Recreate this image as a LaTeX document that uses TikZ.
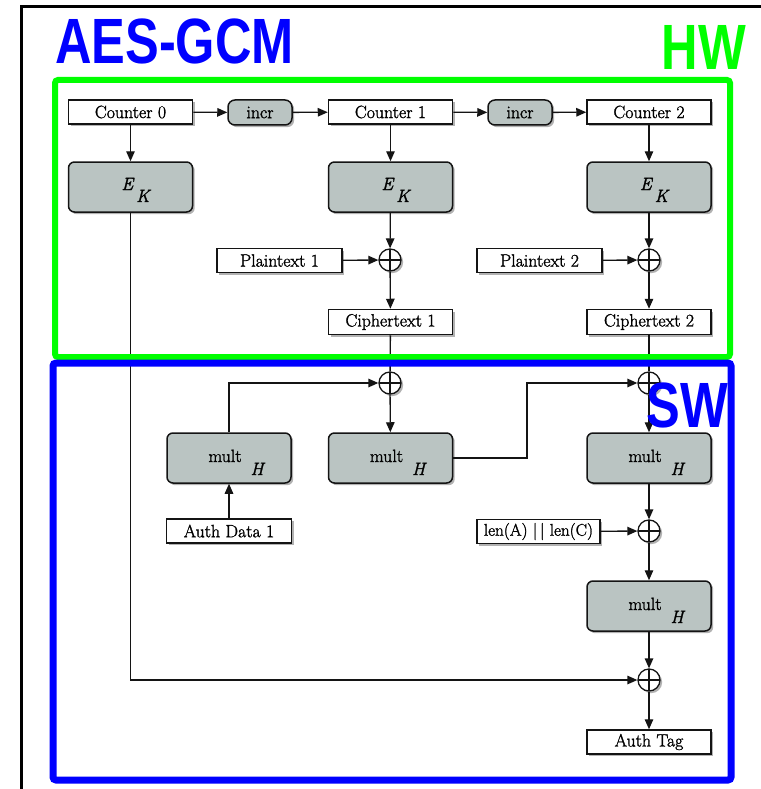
\documentclass[tikz,border=0pt]{standalone}
\usepackage{fontspec}
\usepackage{graphicx}
\newfontfamily\titlefont{Liberation Sans}
\newfontfamily\lblfam{Latin Modern Roman}[FakeBold=1.5]
\usetikzlibrary{arrows.meta,shadows}
\definecolor{boxgray}{RGB}{186,196,194}
\definecolor{edge}{RGB}{20,20,20}
\definecolor{hwgreen}{RGB}{0,255,0}
\definecolor{swblue}{RGB}{0,0,255}
\newcommand\lblfont{\lblfam\fontsize{17.8}{20}\selectfont}
\newcommand\ektext{\hspace*{10pt}\smash{\raisebox{-3pt}{\itshape E}}\hspace{3pt}\smash{\raisebox{-15pt}{\itshape K}}}
\newcommand\multtext{\hspace*{14pt}\smash{\raisebox{-4pt}{mult}}\hspace{9pt}\smash{\raisebox{-17pt}{\itshape H}}}
\newcommand\bigtitle[1]{\scalebox{0.79}[1]{\titlefont\bfseries\fontsize{64}{70}\selectfont #1}}
\tikzset{
  shad/.style={drop shadow={shadow xshift=2.2pt,shadow yshift=-2.2pt,opacity=0.3,fill=black}},
  plainbox/.style={shad,draw=edge,line width=1.5pt,fill=white,minimum width=124pt,minimum height=24pt,inner sep=0pt,font=\lblfont},
  graybox/.style={shad,draw=edge,line width=1.5pt,fill=boxgray,rounded corners=6pt,minimum width=124pt,minimum height=50pt,inner sep=0pt,font=\lblfont},
  incrbox/.style={graybox,minimum width=64pt,minimum height=25pt,rounded corners=7pt},
  xorc/.style={shad,circle,draw=edge,line width=1.3pt,fill=white,minimum size=22pt,inner sep=0pt,
    path picture={\draw[edge,line width=1.1pt] (path picture bounding box.north) -- (path picture bounding box.south)
      (path picture bounding box.west) -- (path picture bounding box.east);}},
  conn/.style={draw=edge,line width=1.3pt},
  arr/.style={conn,-{Triangle[length=10pt,width=8.5pt]}},
  title/.style={inner sep=0pt}
}
\begin{document}
\begin{tikzpicture}[x=1pt,y=-1pt]
\useasboundingbox (0,0) rectangle (760,789);
\fill[white] (0,0) rectangle (760,789);
\draw[line width=3pt] (21,800) -- (21,7) -- (770,7);

% HW part
\node[plainbox] (c0) at (130.5,112) {Counter 0};
\node[incrbox] (i1) at (260,112.5) {incr};
\node[plainbox] (c1) at (390.5,112) {Counter 1};
\node[incrbox] (i2) at (520,112.5) {incr};
\node[plainbox] (c2) at (649,112) {Counter 2};

\node[graybox] (ek0) at (130.5,187) {\ektext};
\node[graybox] (ek1) at (390.5,187) {\ektext};
\node[graybox] (ek2) at (649,187) {\ektext};

\node[xorc] (x1) at (390,260) {};
\node[xorc] (x2) at (649,260) {};
\node[plainbox,minimum width=125pt] (p1) at (279.5,260.5) {Plaintext 1};
\node[plainbox,minimum width=125pt] (p2) at (539.5,260.5) {Plaintext 2};
\node[plainbox,minimum height=25pt] (ct1) at (390.5,322) {Ciphertext 1};
\node[plainbox,minimum height=25pt] (ct2) at (649,322) {Ciphertext 2};

% SW part
\node[xorc] (xa) at (390,383) {};
\node[xorc] (xb) at (649,383) {};
\node[graybox] (m1) at (229,458) {\multtext};
\node[graybox] (m2) at (390.5,458) {\multtext};
\node[graybox] (m3) at (649,458) {\multtext};
\node[plainbox,minimum width=125pt] (ad) at (229,531) {Auth Data 1};
\node[plainbox,minimum width=123pt,font=\lblfam\fontsize{17}{19}\selectfont] (len) at (538.5,531.5) {len(A) |\hspace{2.5pt}| len(C)};
\node[xorc] (xc) at (649,531) {};
\node[graybox] (m4) at (649,606) {\multtext};
\node[xorc] (xd) at (649,680) {};
\node[plainbox] (at) at (649,742) {Auth Tag};
\coordinate (mb) at (527,458);

% connectors
\draw[arr] (c0) -- (i1);
\draw[arr] (i1) -- (c1);
\draw[arr] (c1) -- (i2);
\draw[arr] (i2) -- (c2);
\draw[arr] (c0) -- (ek0);
\draw[arr] (c1) -- (ek1);
\draw[arr] (c2) -- (ek2);
\draw[arr] (ek1) -- (x1);
\draw[arr] (ek2) -- (x2);
\draw[arr] (p1) -- (x1);
\draw[arr] (p2) -- (x2);
\draw[arr] (x1) -- (ct1);
\draw[arr] (x2) -- (ct2);
\draw[conn] (ct1) -- (xa);
\draw[conn] (ct2) -- (xb);
\draw[arr] (m1.north) |- (xa);
\draw[arr] (ad) -- (m1);
\draw[arr] (xa) -- (m2);
\draw[arr] (m2.east) -- (mb) |- (xb);
\draw[arr] (xb) -- (m3);
\draw[arr] (m3) -- (xc);
\draw[arr] (len) -- (xc);
\draw[arr] (xc) -- (m4);
\draw[arr] (m4) -- (xd);
\draw[arr] (ek0) |- (xd);
\draw[arr] (xd) -- (at);

% region frames
\draw[hwgreen,line width=6pt,rounded corners=3pt] (55,80) rectangle (730,357);
\draw[swblue,line width=7pt,rounded corners=3pt] (53,363) rectangle (731,780);

% titles
\node[title,anchor=base west,text=swblue] (tAES) at (55,64) {\bigtitle{AES-GCM}};
\node[title,anchor=base east,text=hwgreen] (tHW) at (746,70) {\bigtitle{HW}};
\node[title,anchor=base east,text=swblue] (tSW) at (728,427) {\bigtitle{SW}};
\end{tikzpicture}
\end{document}
